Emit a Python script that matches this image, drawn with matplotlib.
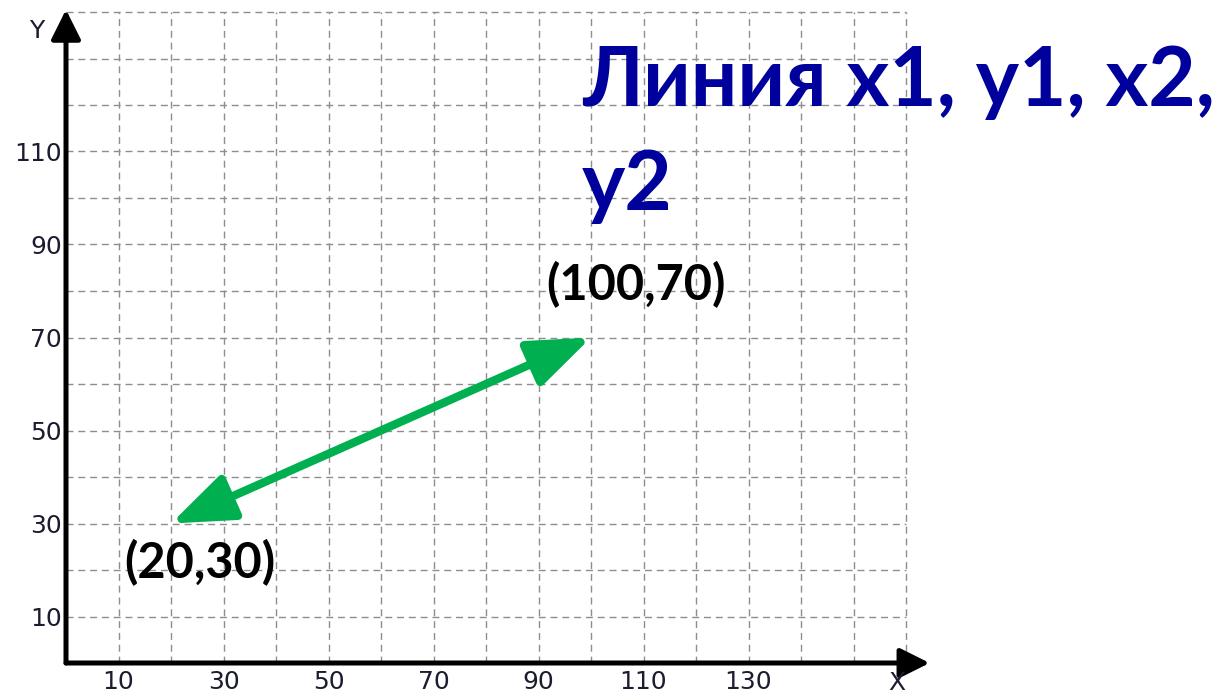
import matplotlib.pyplot as plt
from matplotlib.patches import ArrowStyle

# data
x_ticks = [10, 30, 50, 70, 90, 110, 130]
y_ticks = [10, 30, 50, 70, 90, 110]
grid_x = list(range(10, 161, 10))
grid_y = list(range(10, 141, 10))
x1, y1 = 20, 30
x2, y2 = 100, 70
title = "Линия x1, y1, x2,\ny2"

W, H = 1225, 695
fig = plt.figure(figsize=(W / 100, H / 100), dpi=100)
px_x, px_y = 5.25, 4.65
xmax, ymax = 166, 142
ax = fig.add_axes([66 / W, 32 / H, xmax * px_x / W, ymax * px_y / H])
ax.set_xlim(0, xmax)
ax.set_ylim(0, ymax)
for s in ax.spines.values():
    s.set_visible(False)

# dashed grid
ax.hlines(grid_y, 0, 160, colors='#8e8e8e', linewidth=1.0, linestyles=(0, (5, 3.5)), zorder=1)
ax.vlines(grid_x, 0, 140, colors='#8e8e8e', linewidth=1.0, linestyles=(0, (5, 3.5)), zorder=1)

# axes with arrows
axis_style = ArrowStyle('-|>', head_length=1.8, head_width=0.9)
ax.annotate('', xy=(164.5, 0), xytext=(0, 0),
            arrowprops=dict(arrowstyle=axis_style, color='black', lw=3.6,
                            shrinkA=0, shrinkB=0, mutation_scale=10),
            annotation_clip=False, zorder=3)
ax.annotate('', xy=(0, 140.5), xytext=(0, 0),
            arrowprops=dict(arrowstyle=axis_style, color='black', lw=3.6,
                            shrinkA=0, shrinkB=0, mutation_scale=10),
            annotation_clip=False, zorder=3)

tick_col = '#1c1c30'
ax.set_xticks(x_ticks)
ax.set_yticks(y_ticks)
ax.tick_params(length=0, labelsize=18, labelcolor=tick_col)
ax.tick_params(axis='x', pad=5)
ax.tick_params(axis='y', pad=3)
ax.text(158.3, -4.3, 'X', fontsize=18, color=tick_col, ha='center', va='center', clip_on=False)
ax.text(-5.5, 136, 'Y', fontsize=18, color=tick_col, ha='center', va='center', clip_on=False)

# green double arrow
ax.annotate('', xy=(x2, y2), xytext=(x1, y1),
            arrowprops=dict(arrowstyle=ArrowStyle('<|-|>', head_length=3.8, head_width=1.45),
                            color='#00b050', lw=6.0, shrinkA=0, shrinkB=0, mutation_scale=10),
            zorder=4)

lab_font = dict(family='Lato', weight='bold', fontsize=35, color='black',
                ha='center', va='center')
ax.text(x1 + 5.5, y1 - 8.5, f'({x1},{y1})', **lab_font)
ax.text(x2 + 8.6, y2 + 11.3, f'({x2},{y2})', **lab_font)

fig.text(582 / W, 1 - 45 / H, title, family='Lato', weight='bold', fontsize=59,
         color='#00009c', ha='left', va='top', linespacing=1.48)

fig.savefig('out.png', dpi=100)
